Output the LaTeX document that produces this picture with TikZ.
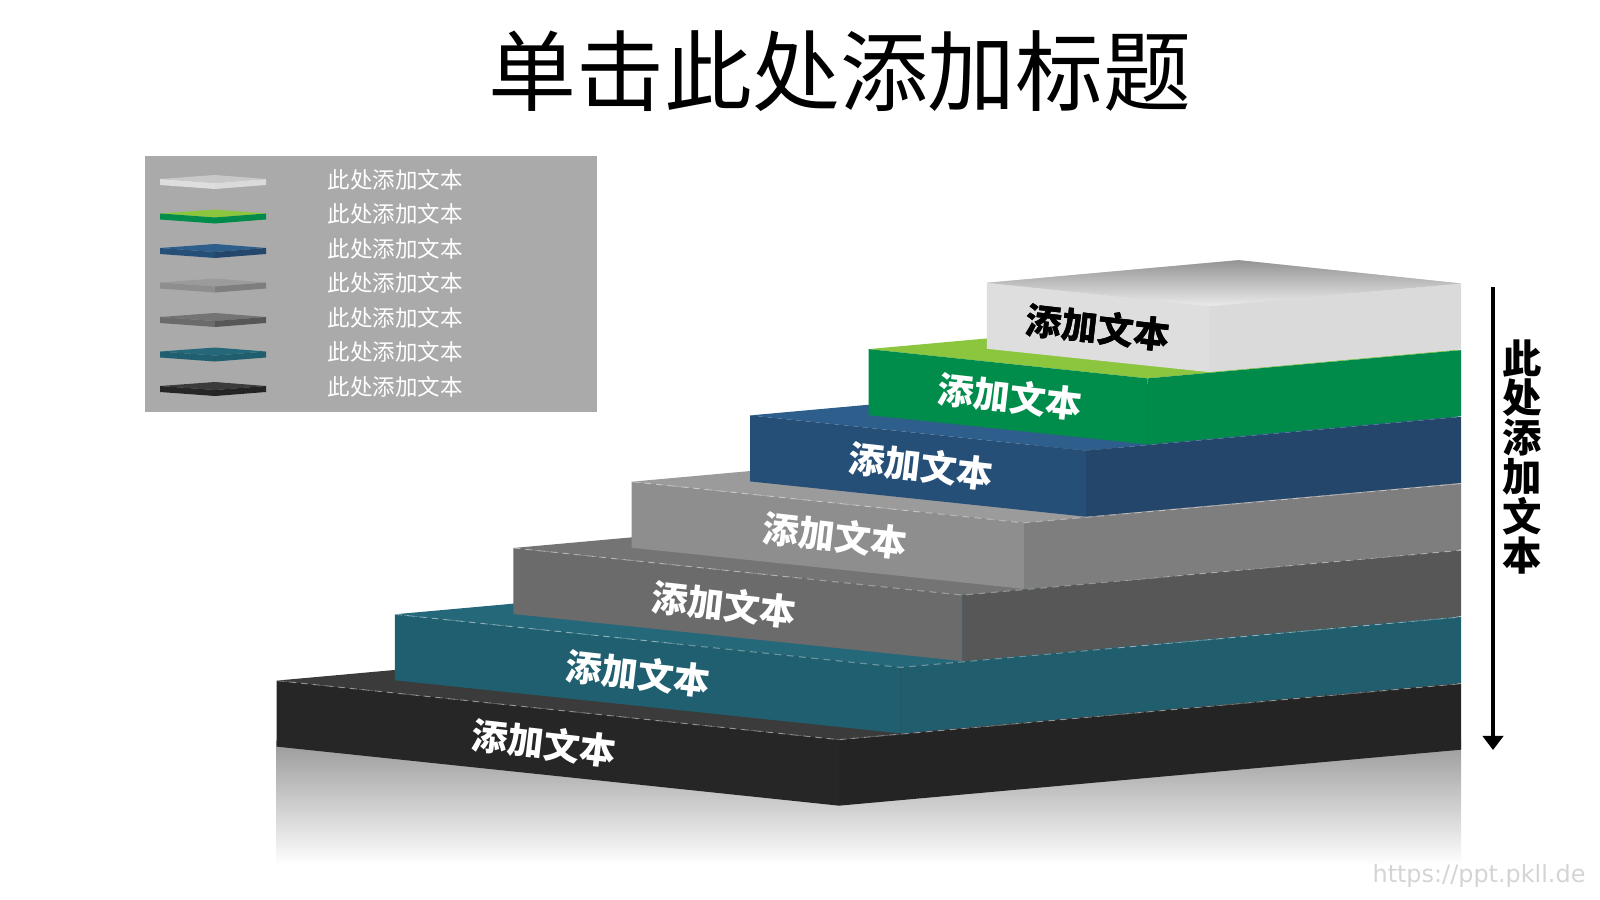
\documentclass[tikz,border=0pt]{standalone}
\usepackage{fontspec}
\newfontfamily\cjk{Noto Sans CJK SC}
\newfontfamily\urlfont{DejaVu Sans}
\usetikzlibrary{calc,arrows.meta}

\definecolor{blackL}{HTML}{262626}\definecolor{blackR}{HTML}{242424}\definecolor{blackT}{HTML}{3B3B3B}
\definecolor{tealL}{HTML}{1F5F6F}\definecolor{tealR}{HTML}{205E6D}\definecolor{tealT}{HTML}{24687A}
\definecolor{dgreyL}{HTML}{6B6B6B}\definecolor{dgreyR}{HTML}{575757}\definecolor{dgreyT}{HTML}{747474}
\definecolor{greyL}{HTML}{8E8E8E}\definecolor{greyR}{HTML}{7E7E7E}\definecolor{greyT}{HTML}{9B9B9B}
\definecolor{blueL}{HTML}{264F78}\definecolor{blueR}{HTML}{23466A}\definecolor{blueT}{HTML}{2E5E8C}
\definecolor{greenL}{HTML}{008C4B}\definecolor{greenR}{HTML}{008B4A}\definecolor{greenT}{HTML}{8CC63F}
\definecolor{whiteL}{HTML}{DEDEDE}\definecolor{whiteR}{HTML}{DADADA}\definecolor{whiteT}{HTML}{C8C8C8}
\definecolor{legendgray}{HTML}{AAAAAA}

% step / left face / right face / top face / label colour / label shift
\def\steplist{0/blackL/blackR/blackT/white/-14, 1/tealL/tealR/tealT/white/-10,
  2/dgreyL/dgreyR/dgreyT/white/-14, 3/greyL/greyR/greyT/white/7,
  4/blueL/blueR/blueT/white/3, 5/greenL/greenR/greenT/white/2,
  6/whiteL/whiteR/whiteT/black/0}

\begin{document}
\begin{tikzpicture}[x=0.01cm, y=-0.01cm]

\tikzset{steplabel/.style={font=\cjk\bfseries\fontsize{10.3}{12}\selectfont, rotate=-6.5, inner sep=0pt}}
\tikzset{legendtext/.style={font=\cjk\fontsize{6.4}{8}\selectfont, text=white, anchor=west, inner sep=0pt}}
\tikzset{edgeline/.style={white, opacity=.35, dash pattern=on 2pt off 1.5pt, line width=.3pt}}

\useasboundingbox (0,0) rectangle (1600,900);

% figure title
\node at (840,71) (title) {\cjk\fontsize{25}{30}\selectfont 单击此处添加标题};

% reflection under the stairs
\shade[top color=black!40, bottom color=white] (276.5,740) rectangle (1461,865);

% stairs, bottom step first
\foreach \i/\cl/\cr/\ct/\tc/\dx in \steplist {
  \pgfmathsetmacro\L{276.5+118.4*\i}
  \pgfmathsetmacro\F{839+61.7*\i}
  \pgfmathsetmacro\Y{680.6-66.3*\i}
  \pgfmathsetmacro\Yf{\Y+0.105*(\F-\L)}
  \pgfmathsetmacro\Yr{\Yf-0.09*(1461-\F)}
  \pgfmathsetmacro\Bx{\L+1461-\F}
  \pgfmathsetmacro\By{\Y+\Yr-\Yf}
  \coordinate (a\i) at (\L,\Y);
  \coordinate (f\i) at (\F,\Yf);
  \coordinate (r\i) at (1461,\Yr);
  \coordinate (b\i) at (\Bx,\By);
  \fill[\ct] (a\i) -- (f\i) -- (r\i) -- (b\i) -- cycle;
  \fill[\cl] (a\i) -- (f\i) -- ++(0,66) -- ($(a\i)+(0,66)$) -- cycle;
  \fill[\cr] (f\i) -- (r\i) -- ++(0,66) -- ($(f\i)+(0,66)$) -- cycle;
  \ifnum\i<4 \draw[edgeline] (a\i) -- (f\i) -- (r\i); \fi
  \node[steplabel, text=\tc] (lab\i) at ($(a\i)!0.5!(f\i)+(\dx,33)$) {添加文本};
}

% shaded top of the highest step
\shade[top color=black!42, bottom color=black!8] (a6) -- (f6) -- (r6) -- (b6) -- cycle;
\node[steplabel, text=black] (lab6) at ($(a6)!0.5!(f6)+(0,33)$) {添加文本};

% arrow and side text
\coordinate (arrtop) at (1493,287);
\coordinate (arrbot) at (1493,750);
\draw[line width=.9pt, -{Triangle[width=5.8pt,length=4pt]}] (arrtop) -- (arrbot);
\node[font=\cjk\bfseries\fontsize{11.2}{11.25}\selectfont, align=center, inner sep=0pt] (side) at (1522,457) {此\\处\\添\\加\\文\\本};

% legend
\fill[legendgray] (145,156) rectangle (597,412);
\foreach \i/\cl/\cr/\ct/\tc/\dx in \steplist {
  \pgfmathsetmacro\cy{182+34.5*(6-\i)}
  \fill[\ct] (160,\cy-3) -- (215,\cy-7) -- (266,\cy-3) -- (215,\cy+1) -- cycle;
  \fill[\cl] (160,\cy-3) -- (215,\cy+1) -- (215,\cy+7) -- (160,\cy+3) -- cycle;
  \fill[\cr] (215,\cy+1) -- (266,\cy-3) -- (266,\cy+3) -- (215,\cy+7) -- cycle;
  \node[legendtext] (leg\i) at (327,\cy-2.5) {此处添加文本};
}

% watermark
\node[text=black!17, font=\urlfont\fontsize{6.8}{8}\selectfont] (wm) at (1479,876) {https://ppt.pkll.de};

\end{tikzpicture}
\end{document}
